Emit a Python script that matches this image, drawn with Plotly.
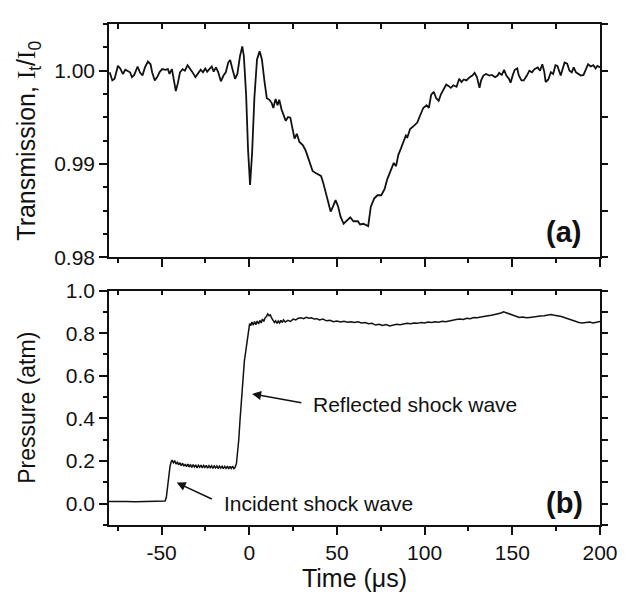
import plotly.graph_objects as go

# ---- Top panel: transmission I_t/I_0 vs time (us) ----
time_a = [-79.6, -78.1, -76.8, -74.9, -73.6, -72.1, -70.7, -69.3, -68.0, -66.9, -65.6, -63.7, -62.4, -60.9,
          -59.5, -57.8, -56.3, -55.4, -53.9, -52.5, -51.2, -49.7, -47.9, -46.4, -45.5, -44.1, -43.0, -41.9,
          -40.8, -39.5, -38.0, -36.7, -35.2, -33.9, -32.6, -30.7, -29.2, -27.7, -26.4, -25.1, -24.0, -22.7,
          -21.4, -20.3, -19.0, -17.7, -16.2, -14.7, -13.4, -12.0, -10.9, -9.6, -8.1, -6.8, -5.3, -4.0, -3.1,
          -1.8, -0.7, 0.45, 1.6, 2.9, 4.4, 5.9, 7.2, 8.7, 10.0, 11.5, 12.8, 13.7, 15.0, 16.1, 17.1, 18.4,
          19.7, 20.8, 22.1, 23.4, 24.5, 25.8, 27.1, 28.6, 30.5, 32.0, 33.3, 34.6, 36.1, 37.6, 39.5, 40.9,
          42.1, 43.6, 45.1, 46.4, 47.7, 49.2, 50.7, 52.0, 53.8, 55.7, 57.6, 59.4, 61.9, 63.2, 65.0, 67.8,
          69.3, 71.2, 73.1, 75.3, 77.2, 78.7, 80.9, 82.4, 83.7, 85.0, 86.5, 88.0, 89.3, 90.2, 91.7, 94.0,
          95.8, 97.3, 99.2, 101.1, 102.4, 103.7, 105.2, 106.6, 108.0, 109.3, 110.8, 112.3, 113.6, 114.9,
          116.4, 118.2, 119.7, 121.0, 122.3, 123.8, 125.7, 127.2, 128.5, 129.8, 131.3, 132.2, 133.5, 135.0,
          136.9, 138.4, 140.2, 141.6, 142.5, 144.0, 145.3, 146.6, 148.1, 149.0, 150.3, 151.4, 152.8, 153.7,
          155.2, 156.5, 158.3, 159.7, 161.2, 162.6, 164.5, 165.8, 167.1, 168.2, 169.0, 170.5, 172.0, 173.3,
          174.6, 175.7, 177.6, 178.9, 179.8, 181.3, 182.6, 183.9, 185.0, 186.3, 187.7, 189.1, 190.6, 191.9,
          193.2, 194.7, 196.2, 197.5, 198.5, 200.0]
trans_a = [0.99983, 0.99896, 0.99913, 1.00052, 1.00024, 0.99965, 1.00010, 1.00000, 0.99983, 0.99931, 0.99955,
           1.00045, 0.99983, 0.99948, 1.00035, 1.00097, 1.00069, 0.99983, 0.99896, 0.99931, 0.99983, 1.00017,
           1.00010, 1.00017, 0.99965, 1.00017, 0.99879, 0.99782, 0.99861, 0.99983, 1.00017, 1.00000, 1.00059,
           1.00017, 0.99990, 0.99931, 0.99965, 1.00010, 0.99983, 1.00024, 0.99990, 1.00017, 1.00045, 0.99990,
           1.00035, 0.99983, 0.99886, 0.99948, 0.99983, 1.00087, 1.00114, 1.00017, 0.99913, 0.99965, 1.00156,
           1.00260, 1.00156, 0.99740, 0.99151, 0.98777, 0.99116, 0.99705, 1.00121, 1.00208, 1.00121, 0.99879,
           0.99705, 0.99688, 0.99653, 0.99601, 0.99698, 0.99629, 0.99688, 0.99584, 0.99525, 0.99463, 0.99504,
           0.99497, 0.99393, 0.99272, 0.99324, 0.99237, 0.99203, 0.99151, 0.99082, 0.99012, 0.98926, 0.98908,
           0.98891, 0.98874, 0.98804, 0.98683, 0.98596, 0.98492, 0.98544, 0.98614, 0.98544, 0.98440, 0.98361,
           0.98395, 0.98430, 0.98388, 0.98388, 0.98354, 0.98361, 0.98336, 0.98544, 0.98631, 0.98666, 0.98666,
           0.98735, 0.98839, 0.98943, 0.99012, 0.98978, 0.99099, 0.99168, 0.99237, 0.99307, 0.99289, 0.99376,
           0.99411, 0.99445, 0.99515, 0.99601, 0.99629, 0.99601, 0.99740, 0.99775, 0.99705, 0.99678, 0.99747,
           0.99792, 0.99851, 0.99837, 0.99816, 0.99844, 0.99827, 0.99913, 0.99879, 0.99906, 0.99896, 0.99931,
           0.99948, 0.99976, 0.99931, 0.99816, 0.99896, 0.99948, 0.99965, 0.99948, 0.99955, 0.99931, 0.99948,
           0.99976, 0.99955, 1.00010, 0.99948, 0.99913, 0.99872, 0.99955, 1.00010, 1.00024, 0.99948, 0.99896,
           0.99896, 0.99948, 1.00000, 0.99983, 1.00017, 1.00035, 1.00000, 1.00069, 0.99990, 0.99879, 0.99906,
           0.99983, 0.99965, 1.00059, 1.00052, 0.99948, 1.00024, 1.00087, 1.00076, 1.00000, 0.99983, 1.00035,
           0.99983, 0.99965, 0.99948, 0.99955, 1.00017, 1.00069, 1.00045, 1.00059, 1.00024, 1.00052, 1.00035]

# ---- Bottom panel: pressure (atm) vs time (us) ----
time_b = [-80.0, -75.0, -70.0, -65.0, -60.0, -55.0, -50.0, -48.5, -48.0, -47.3, -46.8, -46.3, -45.8, -45.2,
          -44.6, -44.0,
          -43.3, -42.5, -41.8, -41.0, -40.3, -39.5, -38.8, -38.0, -37.3, -36.5, -35.8, -35.0, -34.3, -33.5,
          -32.8, -32.0, -31.3, -30.5, -29.8, -29.0, -28.3, -27.5, -26.8, -26.0, -25.3, -24.5, -23.8, -23.0,
          -22.3, -21.5, -20.8, -20.0, -19.3, -18.5, -17.8, -17.0, -16.3, -15.5, -14.8, -14.0, -13.3, -12.5,
          -11.8, -11.0, -10.3, -9.5, -8.8, -8.0,
          -7.3, -6.7, -6.0, -5.3, -4.6, -4.0, -3.4, -2.8, -2.1, -1.4, -0.8, -0.3, 0.2,
          0.8, 1.5, 2.3, 3.0, 3.8, 4.5, 5.3, 6.0, 6.8, 7.5, 8.3, 9.0, 9.8, 10.5, 11.3, 12.0, 12.8, 13.5,
          14.3, 15.0, 15.8, 16.5, 17.3, 18.0, 18.8, 19.5,
          20.5, 22.0, 23.5, 25.0, 26.5, 28.0, 29.5, 31.0, 32.5, 34.0, 35.5, 37.0, 38.5, 40.0, 42.0, 44.0,
          46.0, 48.0, 50.0, 52.0, 54.0, 56.0, 58.0, 60.0, 62.0, 64.0, 66.0, 68.0, 70.0, 72.0, 74.0, 76.0,
          78.0, 80.0, 82.0, 84.0, 86.0, 88.0, 90.0, 92.0, 94.0, 96.0, 98.0, 100.0, 102.0, 104.0, 106.0,
          108.0, 110.0, 112.0, 114.0, 116.0, 118.0, 120.0, 122.0, 124.0, 126.0, 128.0, 130.0, 132.0, 134.0,
          136.0, 138.0, 140.0, 142.0, 143.5, 145.0, 146.5, 148.0, 150.0, 152.0, 154.0, 156.0, 158.0, 160.0,
          162.0, 164.0, 166.0, 168.0, 170.0, 172.0, 174.0, 176.0, 178.0, 180.0, 182.0, 184.0, 186.0, 188.0,
          190.0, 192.0, 194.0, 196.0, 198.0, 200.0]
pressure_b = [0.010, 0.011, 0.010, 0.009, 0.010, 0.011, 0.010, 0.011, 0.013, 0.030, 0.070, 0.120, 0.150, 0.175,
              0.195, 0.205,
              0.192, 0.200, 0.186, 0.196, 0.182, 0.192, 0.178, 0.190, 0.176, 0.186, 0.174, 0.186, 0.172, 0.184,
              0.170, 0.183, 0.172, 0.182, 0.168, 0.180, 0.171, 0.181, 0.168, 0.179, 0.170, 0.180, 0.167, 0.178,
              0.169, 0.178, 0.166, 0.177, 0.168, 0.177, 0.165, 0.176, 0.167, 0.176, 0.164, 0.175, 0.166, 0.176,
              0.163, 0.175, 0.165, 0.176, 0.164, 0.172,
              0.190, 0.230, 0.300, 0.390, 0.470, 0.550, 0.620, 0.670, 0.710, 0.750, 0.790, 0.830, 0.845,
              0.835, 0.852, 0.838, 0.855, 0.840, 0.857, 0.843, 0.860, 0.848, 0.866, 0.855, 0.872, 0.878, 0.890,
              0.882, 0.886, 0.870, 0.862, 0.850, 0.858, 0.846, 0.857, 0.848, 0.860, 0.850, 0.862,
              0.852, 0.860, 0.855, 0.866, 0.862, 0.870, 0.872, 0.868, 0.874, 0.870, 0.872, 0.866, 0.868, 0.862,
              0.866, 0.858, 0.860, 0.854, 0.857, 0.852, 0.856, 0.851, 0.854, 0.850, 0.853, 0.848, 0.850, 0.844,
              0.846, 0.838, 0.842, 0.836, 0.840, 0.834, 0.838, 0.842, 0.840, 0.844, 0.846, 0.844, 0.848, 0.846,
              0.850, 0.848, 0.852, 0.850, 0.854, 0.851, 0.856, 0.854, 0.858, 0.860, 0.864, 0.866, 0.864, 0.870,
              0.868, 0.873, 0.872, 0.876, 0.878, 0.882, 0.884, 0.888, 0.890, 0.895, 0.900, 0.896, 0.892, 0.884,
              0.878, 0.874, 0.876, 0.872, 0.874, 0.875, 0.876, 0.880, 0.882, 0.886, 0.888, 0.884, 0.882, 0.878,
              0.872, 0.866, 0.860, 0.854, 0.850, 0.848, 0.850, 0.852, 0.848, 0.853, 0.855]

x_ticks = [-50, 0, 50, 100, 150, 200]
x_tick_text = ["-50", "0", "50", "100", "150", "200"]
y_ticks_a = [0.98, 0.99, 1.00]
y_tick_text_a = ["0.98", "0.99", "1.00"]
y_ticks_b = [0.0, 0.2, 0.4, 0.6, 0.8, 1.0]
y_tick_text_b = ["0.0", "0.2", "0.4", "0.6", "0.8", "1.0"]

FONT = "Liberation Sans, Arial, sans-serif"
INK = "#111111"
TICKFONT = dict(family=FONT, size=21, color=INK)

fig = go.Figure()
fig.add_trace(go.Scatter(x=time_a, y=trans_a, mode="lines", line=dict(color=INK, width=1.8),
                         xaxis="x2", yaxis="y2", showlegend=False))
fig.add_trace(go.Scatter(x=time_b, y=pressure_b, mode="lines", line=dict(color=INK, width=1.5),
                         xaxis="x", yaxis="y", showlegend=False))
# empty traces to register the mirror axes (top / right frame with their ticks)
for xa, ya in [("x3", "y"), ("x4", "y2"), ("x", "y3"), ("x2", "y4")]:
    fig.add_trace(go.Scatter(x=[None], y=[None], xaxis=xa, yaxis=ya, showlegend=False, hoverinfo="skip"))

line_common = dict(showline=True, linecolor=INK, linewidth=1.6, showgrid=False, zeroline=False)

xmain = dict(range=[-80, 200], tickmode="array", tickvals=x_ticks, ticktext=x_tick_text, ticks="outside",
             ticklen=8, tickwidth=1.5, tickcolor=INK, tickfont=TICKFONT,
             minor=dict(dtick=25, tick0=0, ticks="outside", ticklen=4, tickwidth=1.5, tickcolor=INK),
             **line_common)
xtop = dict(range=[-80, 200], side="top", tickmode="linear", tick0=0, dtick=25, ticks="inside", ticklen=5,
            tickwidth=1.5, tickcolor=INK, showticklabels=False, **line_common)

fig.update_layout(
    width=630, height=600,
    margin=dict(l=109, r=20, t=14, b=71),
    paper_bgcolor="white", plot_bgcolor="white",
    xaxis=dict(domain=[0, 1], anchor="y",
               title=dict(text="Time (μs)", font=dict(family=FONT, size=25, color=INK), standoff=6),
               **xmain),
    xaxis2=dict(domain=[0, 1], anchor="y2", showticklabels=False, **xmain),
    xaxis3=dict(overlaying="x", anchor="y", **xtop),
    xaxis4=dict(overlaying="x2", anchor="y2", **xtop),
    yaxis=dict(domain=[0, 0.468], anchor="x", range=[-0.1, 1.0], tickmode="array", tickvals=y_ticks_b,
               ticktext=y_tick_text_b, ticks="outside", ticklen=8, tickwidth=1.5, tickcolor=INK,
               tickfont=TICKFONT,
               minor=dict(dtick=0.1, tick0=0, ticks="outside", ticklen=4, tickwidth=1.5, tickcolor=INK),
               **line_common),
    yaxis2=dict(domain=[0.534, 1], anchor="x2", range=[0.98, 1.005], tickmode="array", tickvals=y_ticks_a,
                ticktext=y_tick_text_a, ticks="outside", ticklen=8, tickwidth=1.5, tickcolor=INK,
                tickfont=TICKFONT,
                minor=dict(dtick=0.0025, tick0=0.98, ticks="outside", ticklen=4, tickwidth=1.5, tickcolor=INK),
                **line_common),
    yaxis3=dict(overlaying="y", anchor="x", side="right", range=[-0.1, 1.0], tickmode="linear", tick0=0,
                dtick=0.1, ticks="outside", ticklen=6, tickwidth=1.5, tickcolor=INK, showticklabels=False,
                **line_common),
    yaxis4=dict(overlaying="y2", anchor="x2", side="right", range=[0.98, 1.005], tickmode="linear",
                tick0=0.98, dtick=0.005, ticks="outside", ticklen=6, tickwidth=1.5, tickcolor=INK,
                showticklabels=False, **line_common),
)

ann_font = dict(family=FONT, size=21, color=INK)
annotations = [
    # y-axis titles
    dict(text="Transmission, <span style='font-family:Liberation Serif'>I</span><sub>t</sub>/"
              "<span style='font-family:Liberation Serif'>I</span><sub>0</sub>",
         xref="paper", yref="paper", x=-0.165, y=0.767, textangle=-90, showarrow=False,
         xanchor="center", yanchor="middle", font=dict(family=FONT, size=25, color=INK)),
    dict(text="Pressure (atm)", xref="paper", yref="paper", x=-0.167, y=0.234, textangle=-90,
         showarrow=False, xanchor="center", yanchor="middle", font=dict(family=FONT, size=23, color=INK)),
    # panel labels
    dict(text="<b>(a)</b>", xref="x2", yref="y2", x=179, y=0.9827, showarrow=False,
         font=dict(family=FONT, size=29, color=INK)),
    dict(text="<b>(b)</b>", xref="x", yref="y", x=179.7, y=0.003, showarrow=False,
         font=dict(family=FONT, size=29, color=INK)),
    # shock labels with their arrows (arrow head at the shock front)
    dict(text="Reflected shock wave", xref="x", yref="y", x=1.6, y=0.515,
         axref="x", ayref="y", ax=35.3, ay=0.465, xanchor="left", yanchor="middle",
         showarrow=True, arrowhead=2, arrowsize=1.2, arrowwidth=1.5, arrowcolor=INK,
         startstandoff=10, font=ann_font),
    dict(text="Incident shock wave", xref="x", yref="y", x=-41.4, y=0.099,
         axref="x", ayref="y", ax=-15.7, ay=0.0, xanchor="left", yanchor="middle",
         showarrow=True, arrowhead=2, arrowsize=1.2, arrowwidth=1.5, arrowcolor=INK,
         startstandoff=11, font=ann_font),
]
fig.update_layout(annotations=annotations)

fig.write_html("out.html", config={"displayModeBar": False},
               post_script="document.body.style.margin='0';")
